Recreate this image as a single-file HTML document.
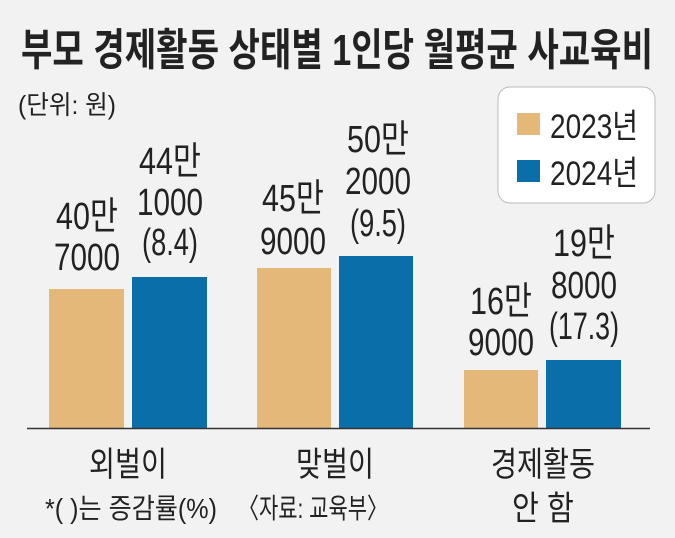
<!DOCTYPE html>
<html><head><meta charset="utf-8"><style>
html,body{margin:0;padding:0;background:#fff}
svg{display:block}
text{font-family:"Liberation Sans","Noto Sans CJK KR",sans-serif;fill:#222}
</style></head><body>
<svg width="675" height="538" viewBox="0 0 675 538" xmlns="http://www.w3.org/2000/svg">
<rect x="0" y="0" width="675" height="538" fill="#f2f2f2"/>
<text x="337" y="65" font-size="44" font-weight="bold" text-anchor="middle" textLength="632" lengthAdjust="spacingAndGlyphs">부모 경제활동 상태별 1인당 월평균 사교육비</text>
<text x="18" y="114" font-size="26" textLength="98" lengthAdjust="spacingAndGlyphs">(단위: 원)</text>
<rect x="498" y="87" width="157" height="116" rx="12" fill="#fff" stroke="#bbb" stroke-width="1"/>
<rect x="517" y="113" width="23" height="22" fill="#e3b878"/>
<rect x="517" y="160" width="23" height="22" fill="#0a6fa8"/>
<text x="550" y="138" font-size="34" textLength="88" lengthAdjust="spacingAndGlyphs">2023년</text>
<text x="550" y="185" font-size="34" textLength="88" lengthAdjust="spacingAndGlyphs">2024년</text>
<g fill="#e3b878"><rect x="49" y="289" width="75" height="139"/><rect x="257" y="268" width="74" height="160"/><rect x="464" y="370" width="74" height="58"/></g>
<g fill="#0a6fa8"><rect x="132" y="277" width="75" height="151"/><rect x="339" y="256" width="74" height="172"/><rect x="546" y="360" width="75" height="68"/></g>
<line x1="27" y1="428.5" x2="650" y2="428.5" stroke="#333" stroke-width="1.5"/>
<g font-size="38" text-anchor="middle">
<text x="87" y="229" textLength="62" lengthAdjust="spacingAndGlyphs">40만</text>
<text x="87" y="270" textLength="66" lengthAdjust="spacingAndGlyphs">7000</text>
<text x="170" y="174" textLength="62" lengthAdjust="spacingAndGlyphs">44만</text>
<text x="170" y="215" textLength="66" lengthAdjust="spacingAndGlyphs">1000</text>
<text x="170" y="255" textLength="56" lengthAdjust="spacingAndGlyphs">(8.4)</text>
<text x="293" y="211" textLength="62" lengthAdjust="spacingAndGlyphs">45만</text>
<text x="293" y="254" textLength="66" lengthAdjust="spacingAndGlyphs">9000</text>
<text x="378" y="152" textLength="62" lengthAdjust="spacingAndGlyphs">50만</text>
<text x="378" y="194" textLength="66" lengthAdjust="spacingAndGlyphs">2000</text>
<text x="378" y="236" textLength="56" lengthAdjust="spacingAndGlyphs">(9.5)</text>
<text x="501" y="314" textLength="62" lengthAdjust="spacingAndGlyphs">16만</text>
<text x="501" y="355" textLength="66" lengthAdjust="spacingAndGlyphs">9000</text>
<text x="584" y="256" textLength="62" lengthAdjust="spacingAndGlyphs">19만</text>
<text x="584" y="298" textLength="66" lengthAdjust="spacingAndGlyphs">8000</text>
<text x="584" y="339" textLength="70" lengthAdjust="spacingAndGlyphs">(17.3)</text>
</g>
<g font-size="34" text-anchor="middle">
<text x="128" y="476" textLength="78" lengthAdjust="spacingAndGlyphs">외벌이</text>
<text x="335" y="476" textLength="78" lengthAdjust="spacingAndGlyphs">맞벌이</text>
<text x="543" y="476" textLength="104" lengthAdjust="spacingAndGlyphs">경제활동</text>
<text x="543" y="520" textLength="62" lengthAdjust="spacingAndGlyphs">안 함</text>
</g>
<text x="45" y="518" font-size="28" textLength="172" lengthAdjust="spacingAndGlyphs">*(  )는 증감률(%)</text>
<text x="238" y="518" font-size="28" textLength="150" lengthAdjust="spacingAndGlyphs">〈자료: 교육부〉</text>
</svg>
</body></html>
